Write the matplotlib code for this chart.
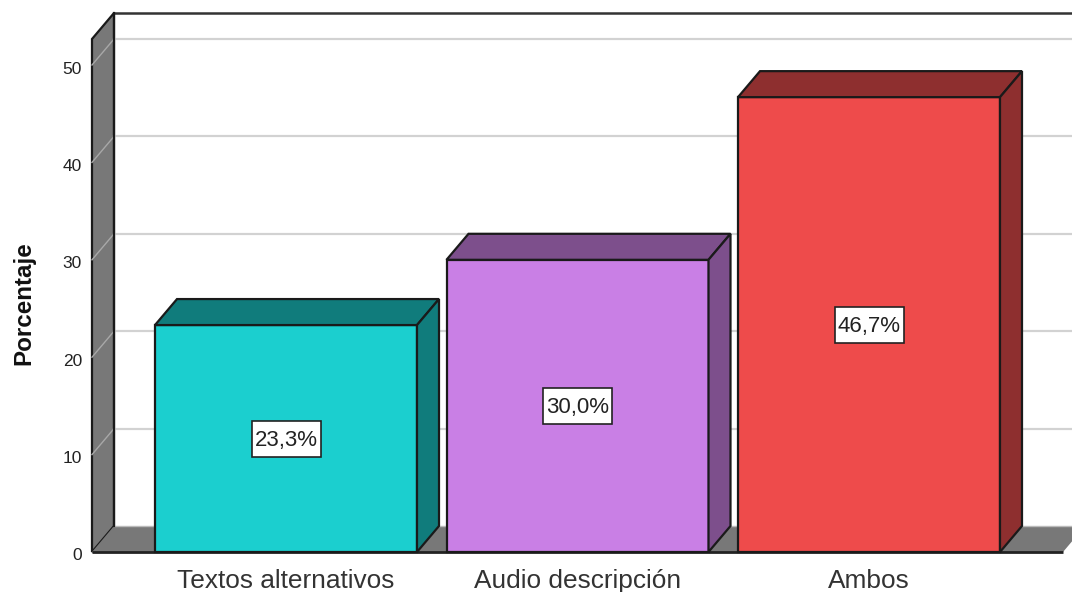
import matplotlib
matplotlib.use("Agg")
import matplotlib.pyplot as plt
from matplotlib.patches import Polygon, Rectangle
from matplotlib.transforms import ScaledTranslation

plt.rcParams['font.family'] = ['Liberation Sans', 'DejaVu Sans']

categorias = ["Textos alternativos", "Audio descripción", "Ambos"]
porcentajes = [23.3, 30.0, 46.7]
etiquetas = ["23,3%", "30,0%", "46,7%"]
colores = ["#1bcfcf", "#c97fe5", "#ee4b4b"]
colores_lado = ["#107c7c", "#7d4f8c", "#8e2f2f"]
yticks = [0, 10, 20, 30, 40, 50]

W, H = 1072, 592
px_x = 291.5     # pixels per category
px_y = 9.74      # pixels per percent
x_cero = 286     # pixel of first category
y_cero = 552     # pixel of value 0
dx = 22 / px_x   # depth of the fake 3d
dy = 26 / px_y
ancho = 262 / px_x
gris = "#787878"
borde = "#1a1a1a"

fig = plt.figure(figsize=(W / 100, H / 100), dpi=100)
ax = fig.add_axes([0, 0, 1, 1])
ax.set_xlim(-x_cero / px_x, (W - x_cero) / px_x)
ax.set_ylim(-(H - y_cero) / px_y, y_cero / px_y)

x0 = (92 - x_cero) / px_x
x1 = (1063 - x_cero) / px_x
tope = (y_cero - 39) / px_y
xmax = ax.get_xlim()[1]

# left wall and floor
ax.add_patch(Polygon([(x0, 0), (x0 + dx, dy), (x0 + dx, tope + dy), (x0, tope)],
                     fc=gris, ec=borde, lw=1.6, zorder=1))
ax.add_patch(Polygon([(x0, 0), (x0 + dx, dy), (x1 + dx, dy), (x1, 0)],
                     fc=gris, ec="none", zorder=1))
ax.plot([x0, x1], [0, 0], color="#222222", lw=2, zorder=2, solid_capstyle="butt")
ax.plot([x0 + dx, xmax], [dy, dy], color="#bbbbbb", lw=1, zorder=1.5)
ax.plot([x0 + dx, xmax], [tope + dy, tope + dy], color="#333333", lw=1.8, zorder=2)

# grid lines, back wall and their slant over the left wall
for v in yticks[1:]:
    ax.plot([x0 + dx, xmax], [v + dy, v + dy], color="#d2d2d2", lw=1.6, zorder=1.2)
    ax.plot([x0, x0 + dx], [v, v + dy], color="#a8a8a8", lw=1, zorder=1.2)
ax.plot([x0 + dx, x0 + dx], [dy, tope + dy], color=borde, lw=1.6, zorder=2)

# bars
xs = list(range(len(categorias)))
ax.bar(xs, porcentajes, width=ancho, color=colores, edgecolor=borde, linewidth=1.6, zorder=3)
for x, v, c in zip(xs, porcentajes, colores_lado):
    izq = x - ancho / 2
    der = x + ancho / 2
    ax.add_patch(Polygon([(izq, v), (izq + dx, v + dy), (der + dx, v + dy), (der, v)],
                         fc=c, ec=borde, lw=1.6, zorder=3))
    ax.add_patch(Polygon([(der, 0), (der + dx, dy), (der + dx, v + dy), (der, v)],
                         fc=c, ec=borde, lw=1.6, zorder=3))

# value boxes
caja_w = 69 / px_x
caja_h = 36 / px_y
for x, v, t in zip(xs, porcentajes, etiquetas):
    ax.add_patch(Rectangle((x - caja_w / 2, v / 2 - caja_h / 2), caja_w, caja_h,
                           fc="white", ec="#222222", lw=1.2, zorder=4))
    ax.text(x, v / 2 - 2 / px_y, t, ha="center", va="center", fontsize=16, color="#222222", zorder=5)

# axes
for s in ["top", "right", "bottom", "left"]:
    ax.spines[s].set_visible(False)
ax.patch.set_alpha(0)
ax.set_yticks(yticks)
ax.tick_params(axis="y", direction="out", length=0, labelsize=12.5, pad=0, labelcolor="#222222")
ax.yaxis.set_ticks_position("left")
baja = ScaledTranslation(0, -2.5 / 100, fig.dpi_scale_trans)
for lab in ax.get_yticklabels():
    lab.set_x(82 / W)
    lab.set_transform(lab.get_transform() + baja)
ax.set_xticks(xs)
ax.set_xticklabels(categorias, fontsize=18.9, color="#333333")
ax.tick_params(axis="x", length=0, pad=0)
for lab in ax.get_xticklabels():
    lab.set_y(1 - 569 / H)

fig.text(24 / W, 1 - 303.5 / H, "Porcentaje", rotation=90, ha="center", va="center",
         fontsize=17.4, fontweight="bold", color="#111111")

fig.savefig("out.png", dpi=100)
